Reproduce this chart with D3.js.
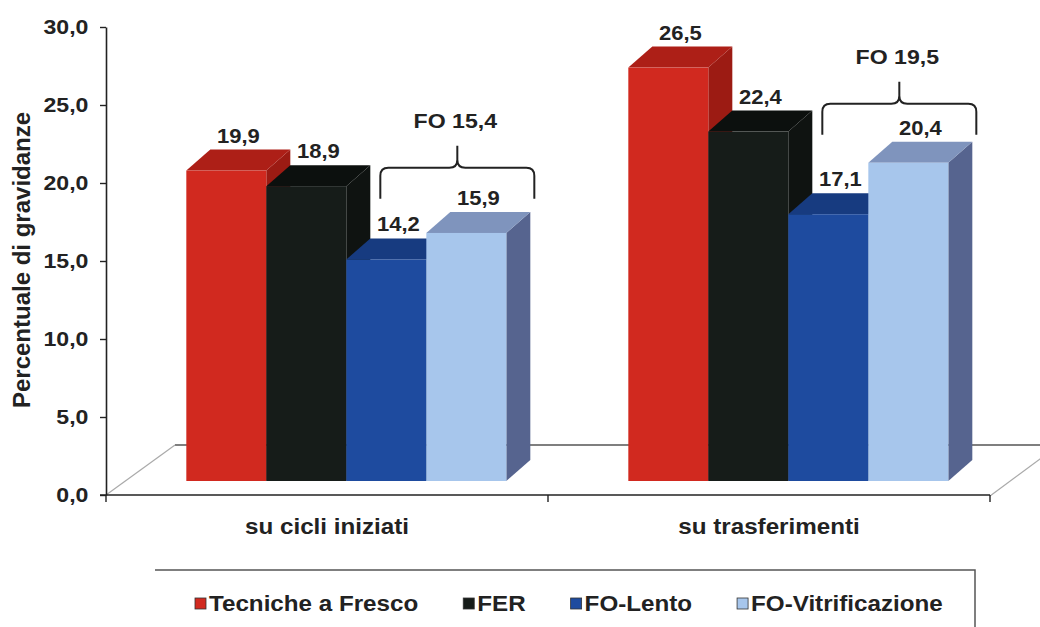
<!DOCTYPE html>
<html>
<head>
<meta charset="utf-8">
<script src="https://cdn.jsdelivr.net/npm/d3@7/dist/d3.min.js"></script>
<style>
  html, body { margin: 0; padding: 0; background: #fff; }
  svg { display: block; }
  text { font-family: "Liberation Sans", Arial, sans-serif; font-weight: bold; fill: #222; }
</style>
</head>
<body>
<svg id="chart" width="1040" height="627"></svg>
<script>
// ---------------- data ----------------
const categories = ["su cicli iniziati", "su trasferimenti"];
const seriesNames = ["Tecniche a Fresco", "FER", "FO-Lento", "FO-Vitrificazione"];
const valuesCicliIniziati = [19.9, 18.9, 14.2, 15.9];
const valuesTrasferimenti = [26.5, 22.4, 17.1, 20.4];
const foTotals = [15.4, 19.5];
const yTickValues = [0, 5, 10, 15, 20, 25, 30];
const yTickLabels = ["0,0", "5,0", "10,0", "15,0", "20,0", "25,0", "30,0"];
const yTitle = "Percentuale di gravidanze";

// ---------------- styles ----------------
const palette = {
  "Tecniche a Fresco": { front: "#d1291f", top: "#ad1f17", side: "#9c1b13" },
  "FER":               { front: "#161c19", top: "#0c100e", side: "#0f1311" },
  "FO-Lento":          { front: "#1e4b9f", top: "#173b80", side: "#13316c" },
  "FO-Vitrificazione": { front: "#a7c6ec", top: "#7f94bd", side: "#56648f" }
};
const SX = 1.1; // horizontal stretch of the lettering

const table = categories.map((c, i) => ({
  category: c,
  values: seriesNames.map((s, j) => ({ series: s, value: [valuesCicliIniziati, valuesTrasferimenti][i][j] })),
  fo: foTotals[i]
}));

const svg = d3.select("#chart");

// ---------------- scales ----------------
const plotLeft = 106, plotRight = 990, plotBottom = 495, plotTop = 27;
const y = d3.scaleLinear().domain([0, 30]).range([plotBottom, plotTop]);
const x0 = d3.scaleBand().domain(categories).range([plotLeft, plotRight]).padding(0);
const groupW = 320;
const x1 = d3.scaleBand().domain(seriesNames).range([0, groupW]).padding(0);

// floor depth and bar depth
const floorDX = 69, floorDY = -50;
const barLift = 14;
const barShiftX = barLift * floorDX / -floorDY;
const bdx = 24, bdy = -21;
const yBar = v => y(v) - barLift;
const groupX = c => x0(c) + (x0.bandwidth() - groupW) / 2 + barShiftX;

function stretchedText(g, x, yy, str, size, anchor) {
  return g.append("text")
    .attr("transform", `translate(${x},${yy}) scale(${SX},1)`)
    .attr("text-anchor", anchor || "middle")
    .style("font-size", size + "px")
    .text(str);
}

// ---------------- floor ----------------
const floor = svg.append("g");
floor.append("line")
  .attr("x1", plotLeft + floorDX).attr("y1", plotBottom + floorDY)
  .attr("x2", plotRight + floorDX).attr("y2", plotBottom + floorDY)
  .attr("stroke", "#555").attr("stroke-width", 1.3);
floor.append("line")
  .attr("x1", plotLeft).attr("y1", plotBottom)
  .attr("x2", plotLeft + floorDX).attr("y2", plotBottom + floorDY)
  .attr("stroke", "#aaa").attr("stroke-width", 1.2);
floor.append("line")
  .attr("x1", plotRight).attr("y1", plotBottom + 1)
  .attr("x2", plotRight + floorDX).attr("y2", plotBottom + floorDY)
  .attr("stroke", "#aaa").attr("stroke-width", 1.2);

// ---------------- axes ----------------
const yAxis = d3.axisLeft(y).tickValues(yTickValues)
  .tickFormat((d, i) => yTickLabels[i]).tickSize(6).tickSizeOuter(0).tickPadding(10);
const gy = svg.append("g").attr("transform", `translate(${plotLeft},0)`).call(yAxis);
gy.select(".domain").attr("stroke", "#222").attr("stroke-width", 1.6);
gy.selectAll(".tick line").attr("stroke", "#222").attr("stroke-width", 1.4);
gy.selectAll(".tick text")
  .attr("fill", "#222")
  .style("font-family", '"Liberation Sans", Arial, sans-serif')
  .style("font-weight", "bold").style("font-size", "21px")
  .attr("transform", `scale(${SX},1)`);

const xAxis = d3.axisBottom(x0).tickSize(0).tickFormat("");
const gx = svg.append("g").attr("transform", `translate(0,${plotBottom})`).call(xAxis);
gx.select(".domain").attr("stroke", "#222").attr("stroke-width", 1.6)
  .attr("d", `M${plotLeft - 6},0H${plotRight}`);
const boundaries = [x0(categories[0])].concat(categories.map(c => x0(c) + x0.bandwidth()));
gx.selectAll("line.bound").data(boundaries).join("line").attr("class", "bound")
  .attr("x1", d => d).attr("x2", d => d).attr("y1", 0).attr("y2", 7)
  .attr("stroke", "#222").attr("stroke-width", 1.4);
categories.forEach(c => {
  stretchedText(svg, x0(c) + x0.bandwidth() / 2, 534, c, 22);
});

// y title
svg.append("text")
  .attr("transform", `translate(30,260) rotate(-90)`)
  .attr("text-anchor", "middle")
  .style("font-size", "24px")
  .text(yTitle);

// ---------------- bars ----------------
const bars = svg.append("g");
table.forEach(group => {
  const gx0 = groupX(group.category);
  const g = bars.append("g");
  group.values.forEach(d => {
    const xl = gx0 + x1(d.series), xr = xl + x1.bandwidth();
    const yt = yBar(d.value), yb = yBar(0);
    const col = palette[d.series];
    g.append("path")
      .attr("d", `M${xr},${yb} L${xr},${yt} L${xr + bdx},${yt + bdy} L${xr + bdx},${yb + bdy} Z`)
      .attr("fill", col.side);
    g.append("path")
      .attr("d", `M${xl},${yt} L${xl + bdx},${yt + bdy} L${xr + bdx},${yt + bdy} L${xr},${yt} Z`)
      .attr("fill", col.top);
    g.append("rect")
      .attr("x", xl).attr("y", yt).attr("width", x1.bandwidth()).attr("height", yb - yt)
      .attr("fill", col.front);
  });
  group.values.forEach(d => {
    const xc = gx0 + x1(d.series) + x1.bandwidth() / 2 + bdx / 2;
    stretchedText(svg, xc, yBar(d.value) + bdy - 7, d3.format(".1f")(d.value).replace(".", ","), 20);
  });
  const bx1 = gx0 + x1("FO-Lento") + 34;
  const bx2 = gx0 + x1("FO-Vitrificazione") + x1.bandwidth() + bdx + 4;
  const bc = (bx1 + bx2) / 2;
  const by = yBar(group.fo) - 73;
  const r = 8;
  svg.append("path")
    .attr("d",
      `M${bx1},${by + 31} L${bx1},${by + r} Q${bx1},${by} ${bx1 + r},${by} L${bc - r},${by} Q${bc},${by} ${bc},${by - r} L${bc},${by - 22}` +
      ` M${bc},${by - r} Q${bc},${by} ${bc + r},${by} L${bx2 - r},${by} Q${bx2},${by} ${bx2},${by + r} L${bx2},${by + 31}`)
    .attr("fill", "none").attr("stroke", "#222").attr("stroke-width", 2);
  stretchedText(svg, bc - 2, by - 40, "FO " + d3.format(".1f")(group.fo).replace(".", ","), 21);
});

// ---------------- legend ----------------
const lg = svg.append("g");
lg.append("path").attr("d", "M155,570 H975 V627")
  .attr("fill", "none").attr("stroke", "#555").attr("stroke-width", 1.5);
let lx = 195;
seriesNames.forEach(s => {
  lg.append("rect").attr("x", lx).attr("y", 598).attr("width", 11).attr("height", 11)
    .attr("fill", palette[s].front).attr("stroke", "#333").attr("stroke-width", 0.8);
  const t = stretchedText(lg, lx + 14, 611, s, 22, "start");
  const w = t.node().getComputedTextLength() * SX;
  lx += 14 + w + 45;
});
</script>
</body>
</html>
